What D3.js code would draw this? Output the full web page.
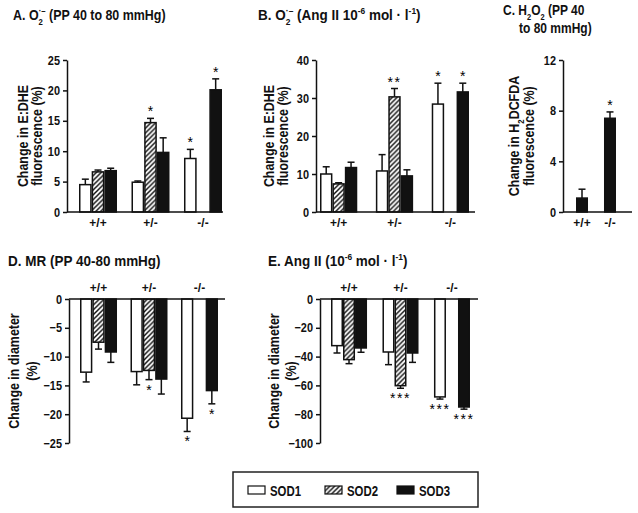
<!DOCTYPE html>
<html><head><meta charset="utf-8">
<script src="https://cdn.jsdelivr.net/npm/d3@7"></script>
<style>
body{margin:0;background:#fff}
text{font-family:"Liberation Sans Narrow","Arial Narrow","Liberation Sans",Arial,sans-serif;font-weight:bold;fill:#111}
</style>
</head><body>
<svg id="c" width="638" height="513"></svg>
<script>
// ---------- data ----------
const groups = ["+/+", "+/-", "-/-"];
const groupsC = ["+/+", "-/-"];
const seriesNames = ["SOD1", "SOD2", "SOD3"];
const seriesC = ["SOD3"];

// A: O2- (PP 40 to 80 mmHg), % change in E:DHE fluorescence
const aMean = [[4.5, 6.6, 6.8], [4.9, 14.7, 9.8], [8.8, null, 20.1]];
const aErr  = [[0.9, 0.3, 0.4], [0.2, 0.7, 2.4], [1.5, null, 1.8]];
const aStars = [["", "", ""], ["", "*", ""], ["*", "", "*"]];
const aTicks = [0, 5, 10, 15, 20, 25];

// B: O2- (Ang II)
const bMean = [[10.0, 7.4, 11.7], [10.8, 30.3, 9.5], [28.4, null, 31.6]];
const bErr  = [[1.9, 0.3, 1.4], [4.3, 2.2, 1.6], [5.5, null, 2.3]];
const bStars = [["", "", ""], ["", "**", ""], ["*", "", "*"]];
const bTicks = [0, 10, 20, 30, 40];

// C: H2O2 (PP 40 to 80 mmHg)
const cMean = [[1.1], [7.4]];
const cErr  = [[0.7], [0.5]];
const cStars = [[""], ["*"]];
const cTicks = [0, 4, 8, 12];

// D: MR (PP 40-80 mmHg), % change in diameter
const dMean = [[-12.7, -7.5, -9.2], [-12.6, -12.4, -13.9], [-20.7, null, -15.9]];
const dErr  = [[1.7, 1.2, 1.8], [2.3, 1.6, 2.6], [2.3, null, 2.3]];
const dStars = [["", "", ""], ["", "*", ""], ["*", "", "*"]];
const dTicks = [0, -5, -10, -15, -20, -25];

// E: Ang II, % change in diameter
const eMean = [[-32.4, -42.1, -34.0], [-36.8, -60.2, -37.5], [-68.0, null, -75.0]];
const eErr  = [[5.1, 2.8, 3.0], [8.8, 1.8, 6.5], [1.5, null, 1.5]];
const eStars = [["", "", ""], ["", "***", ""], ["***", "", "***"]];
const eTicks = [0, -20, -40, -60, -80, -100];

// ---------- drawing ----------
const svg = d3.select("#c");
const defs = svg.append("defs");
const pat = defs.append("pattern").attr("id", "hatch").attr("patternUnits", "userSpaceOnUse")
  .attr("width", 4.8).attr("height", 4.8);
pat.append("rect").attr("width", 4.8).attr("height", 4.8).attr("fill", "#fff");
pat.append("path").attr("d", "M-1,1 l2,-2 M0,4.8 l4.8,-4.8 M3.8,5.8 l2,-2")
  .attr("stroke", "#111").attr("stroke-width", 1.5);

const fillFor = s => s === "SOD1" ? "#fff" : s === "SOD2" ? "url(#hatch)" : "#111";

// rich text drawn in its own group, condensed horizontally by a scale transform
function rich(parent, x, y, rot, anchor, parts, size, f) {
  const g = parent.append("g")
    .attr("transform", `translate(${x},${y})${rot ? ` rotate(${rot})` : ""} scale(${f},1)`);
  const t = g.append("text").attr("text-anchor", anchor).attr("font-size", size);
  let cur = 0;
  parts.forEach(p => {
    const target = p.sub ? size * 0.3 : p.sup ? -size * 0.4 : 0;
    const ts = t.append("tspan").text(p.t).attr("dy", target - cur)
      .attr("font-size", (p.sub || p.sup) ? size * 0.62 : size);
    if (p.dx) ts.attr("dx", p.dx);
    cur = target;
  });
  return t;
}

function panel(cfg) {
  const g = svg.append("g");
  const y = d3.scaleLinear().domain(cfg.yDomain).range(cfg.yRange);
  const x0 = d3.scaleBand().domain(cfg.groups).range(cfg.barX).paddingInner(cfg.pad).paddingOuter(0);
  const x1 = d3.scaleBand().domain(cfg.series).range([0, x0.bandwidth()]);

  // y axis
  const ax = g.append("g").attr("transform", `translate(${cfg.axisX[0]},0)`)
    .call(d3.axisLeft(y).tickValues(cfg.ticks).tickSize(4).tickSizeOuter(0).tickPadding(3));
  ax.selectAll("path,line").attr("stroke", "#111").attr("stroke-width", 1.5);
  ax.selectAll("text").attr("font-size", 13).attr("font-family", null)
    .style("font-weight", "bold").attr("fill", "#111").attr("data-cf", 0.84);

  // bars
  cfg.groups.forEach((gr, gi) => {
    cfg.series.forEach((s, si) => {
      const v = cfg.mean[gi][si];
      if (v == null) return;
      const bx = x0(gr) + x1(s), bw = x1.bandwidth();
      const y0 = y(0), yv = y(v);
      const cx = bx + bw / 2;
      const e = cfg.err[gi][si];
      const sign = v >= 0 ? 1 : -1;
      const ye = y(v + sign * e);
      g.append("line").attr("x1", cx).attr("x2", cx).attr("y1", yv).attr("y2", ye)
        .attr("stroke", "#111").attr("stroke-width", 1.5);
      g.append("line").attr("x1", cx - 3.5).attr("x2", cx + 3.5).attr("y1", ye).attr("y2", ye)
        .attr("stroke", "#111").attr("stroke-width", 1.5);
      g.append("rect").attr("x", bx + 0.75).attr("width", bw - 1.5)
        .attr("y", Math.min(y0, yv)).attr("height", Math.abs(yv - y0))
        .attr("fill", fillFor(s)).attr("stroke", "#111").attr("stroke-width", 1.5);
      const st = cfg.stars[gi][si];
      if (st) {
        g.append("text").attr("x", cx).attr("text-anchor", "middle")
          .attr("y", sign > 0 ? ye - 2 : ye + 15)
          .attr("font-size", 14).style("font-weight", "normal").style("fill", "#000")
          .attr("letter-spacing", st.length > 1 ? 1.5 : 0).attr("data-cf", 1)
          .text(st);
      }
    });
    g.append("text").attr("x", x0(gr) + x0.bandwidth() / 2).attr("y", cfg.groupLabelY)
      .attr("text-anchor", "middle").attr("font-size", 13).attr("data-cf", 0.92).text(gr);
  });

  // x axis line at zero
  g.append("line").attr("x1", cfg.axisX[0]).attr("x2", cfg.axisX[1])
    .attr("y1", y(0)).attr("y2", y(0)).attr("stroke", "#111").attr("stroke-width", 1.5);

  // y label
  const cy = (cfg.yRange[0] + cfg.yRange[1]) / 2;
  cfg.ylabel.forEach((ln, i) => rich(g, cfg.ylabelX[i], cy, -90, "middle", ln, 15, 0.83));

  // title
  cfg.title.forEach((ln, i) => rich(g, cfg.titleX[i], cfg.titleY[i], 0, "start", ln, 15, cfg.titleF));
}

panel({
  mean: aMean, err: aErr, stars: aStars, groups: groups, series: seriesNames,
  yDomain: [0, 25], yRange: [212, 60], ticks: aTicks, axisX: [67, 223], barX: [79, 222], pad: 0.276,
  groupLabelY: 227,
  ylabel: [[{t: "Change in E:DHE"}], [{t: "fluorescence (%)"}]], ylabelX: [28, 42],
  title: [[{t: "A. O"}, {t: "2", sub: true}, {t: "·–", sup: true, dx: -5}, {t: " (PP 40 to 80 mmHg)"}]],
  titleX: [13], titleY: [20], titleF: 0.83
});
panel({
  mean: bMean, err: bErr, stars: bStars, groups: groups, series: seriesNames,
  yDomain: [0, 40], yRange: [212, 60], ticks: bTicks, axisX: [316, 475], barX: [320, 469], pad: 0.333,
  groupLabelY: 227,
  ylabel: [[{t: "Change in E:DHE"}], [{t: "fluorescence (%)"}]], ylabelX: [274, 288],
  title: [[{t: "B. O"}, {t: "2", sub: true}, {t: "·–", sup: true, dx: -5}, {t: " (Ang II 10"}, {t: "-6", sup: true}, {t: " mol · l"}, {t: "-1", sup: true}, {t: ")"}]],
  titleX: [258], titleY: [20], titleF: 0.9
});
panel({
  mean: cMean, err: cErr, stars: cStars, groups: groupsC, series: seriesC,
  yDomain: [0, 12], yRange: [212, 60], ticks: cTicks, axisX: [563, 632], barX: [576, 616], pad: 0.571,
  groupLabelY: 227,
  ylabel: [[{t: "Change in H"}, {t: "2", sub: true}, {t: "DCFDA"}], [{t: "fluorescence (%)"}]], ylabelX: [519, 534],
  title: [[{t: "C. H"}, {t: "2", sub: true}, {t: "O"}, {t: "2", sub: true}, {t: " (PP 40"}], [{t: "to 80 mmHg)"}]],
  titleX: [503, 519], titleY: [15, 33], titleF: 0.8
});
panel({
  mean: dMean, err: dErr, stars: dStars, groups: groups, series: seriesNames,
  yDomain: [0, -25], yRange: [299, 443], ticks: dTicks, axisX: [69, 225], barX: [80, 218], pad: 0.267,
  groupLabelY: 292,
  ylabel: [[{t: "Change in diameter"}], [{t: "(%)"}]], ylabelX: [19, 37],
  title: [[{t: "D. MR (PP 40-80 mmHg)"}]],
  titleX: [8], titleY: [266], titleF: 0.9
});
panel({
  mean: eMean, err: eErr, stars: eStars, groups: groups, series: seriesNames,
  yDomain: [0, -100], yRange: [299, 443], ticks: eTicks, axisX: [320, 478], barX: [331, 470], pad: 0.30,
  groupLabelY: 292,
  ylabel: [[{t: "Change in diameter"}], [{t: "(%)"}]], ylabelX: [279, 296],
  title: [[{t: "E. Ang II (10"}, {t: "-6", sup: true}, {t: " mol · l"}, {t: "-1", sup: true}, {t: ")"}]],
  titleX: [268], titleY: [266], titleF: 0.9
});

// legend
const lg = svg.append("g");
lg.append("rect").attr("x", 233).attr("y", 472).attr("width", 245).attr("height", 35)
  .attr("fill", "#fff").attr("stroke", "#222").attr("stroke-width", 1.5);
const legX = [248, 325, 397];
seriesNames.forEach((s, i) => {
  lg.append("rect").attr("x", legX[i]).attr("y", 486).attr("width", 17).attr("height", 8)
    .attr("fill", fillFor(s)).attr("stroke", "#111").attr("stroke-width", 1.2);
  lg.append("text").attr("x", legX[i] + 22).attr("y", 495.5).attr("font-size", 15)
    .attr("data-cf", 0.76).text(s);
});

// condense plain texts horizontally (reference uses a narrow bold face)
svg.selectAll("text[data-cf]").each(function () {
  const f = +this.getAttribute("data-cf");
  if (f === 1) return;
  const L = this.getComputedTextLength();
  this.setAttribute("textLength", (L * f).toFixed(2));
  this.setAttribute("lengthAdjust", "spacingAndGlyphs");
});
</script>
</body></html>
